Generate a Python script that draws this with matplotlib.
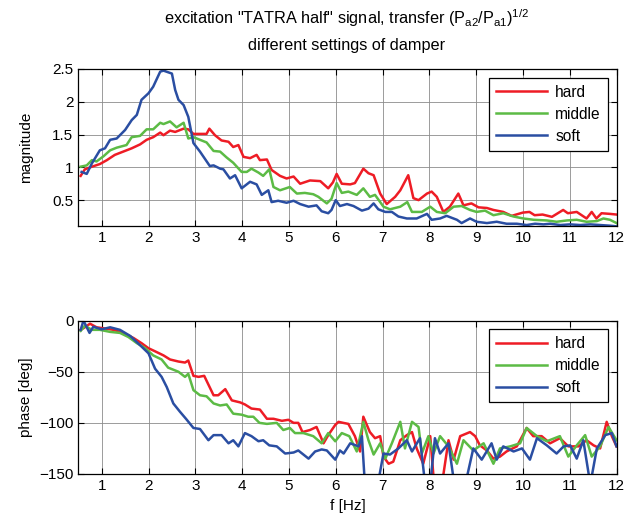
import matplotlib
matplotlib.use("Agg")
import matplotlib.pyplot as plt

plt.rcParams['font.family'] = ['Liberation Sans', 'DejaVu Sans']
plt.rcParams['mathtext.fontset'] = 'custom'
plt.rcParams['mathtext.rm'] = 'Liberation Sans'
plt.rcParams['mathtext.it'] = 'Liberation Sans'
plt.rcParams['font.size'] = 11

labels = ["hard", "middle", "soft"]
colors = ["#ee1c25", "#5cbb45", "#2a4ea2"]

# magnitude of transfer (Pa2/Pa1)^1/2
f_mag_hard = [0.55, 0.64, 0.79, 0.96, 1.11, 1.28, 1.46, 1.64, 1.82, 1.96, 2.1, 2.25, 2.32, 2.46, 2.57, 2.75,
              2.85, 2.96, 3.1, 3.24, 3.3, 3.42, 3.56, 3.71, 3.81, 3.92, 4.03, 4.17, 4.31, 4.38, 4.53, 4.63,
              4.81, 4.95, 5.1, 5.24, 5.45, 5.67, 5.84, 5.94, 6.02, 6.13, 6.31, 6.41, 6.59, 6.7, 6.81, 6.95,
              7.09, 7.27, 7.38, 7.55, 7.66, 7.77, 7.95, 8.05, 8.16, 8.3, 8.44, 8.62, 8.73, 8.9, 9.05, 9.23,
              9.37, 9.58, 9.76, 10.0, 10.14, 10.25, 10.42, 10.62, 10.86, 10.96, 11.15, 11.36, 11.47, 11.57,
              11.68, 11.86, 12.0]
mag_hard = [0.87, 0.97, 1.01, 1.05, 1.11, 1.19, 1.24, 1.29, 1.35, 1.42, 1.46, 1.53, 1.49, 1.56, 1.54, 1.59,
            1.58, 1.51, 1.51, 1.51, 1.59, 1.49, 1.41, 1.39, 1.31, 1.34, 1.16, 1.14, 1.19, 1.11, 1.12, 0.96,
            0.87, 0.83, 0.86, 0.75, 0.8, 0.79, 0.68, 0.77, 0.9, 0.75, 0.74, 0.76, 0.98, 0.91, 0.88, 0.6,
            0.44, 0.55, 0.65, 0.88, 0.53, 0.5, 0.6, 0.63, 0.55, 0.32, 0.4, 0.6, 0.42, 0.45, 0.39, 0.38,
            0.35, 0.32, 0.26, 0.31, 0.32, 0.27, 0.28, 0.245, 0.35, 0.3, 0.32, 0.22, 0.32, 0.22,
            0.3, 0.29, 0.28]

f_mag_middle = [0.55, 0.68, 0.79, 0.89, 1.04, 1.18, 1.32, 1.53, 1.64, 1.82, 1.96, 2.1, 2.25, 2.32, 2.46, 2.6,
                2.75, 2.85, 2.96, 3.1, 3.24, 3.39, 3.53, 3.67, 3.81, 3.99, 4.1, 4.2, 4.35, 4.45, 4.58, 4.67,
                4.81, 5.02, 5.17, 5.34, 5.52, 5.63, 5.81, 5.91, 6.02, 6.13, 6.27, 6.45, 6.59, 6.73, 6.84,
                7.02, 7.16, 7.38, 7.53, 7.63, 7.84, 8.02, 8.16, 8.34, 8.52, 8.69, 8.87, 9.01, 9.19, 9.37,
                9.58, 9.8, 10.01, 10.23, 10.51, 10.72, 10.94, 11.15, 11.36, 11.58, 11.72, 11.86, 12.0]
mag_middle = [1.01, 1.03, 1.11, 1.09, 1.17, 1.26, 1.3, 1.34, 1.46, 1.48, 1.58, 1.58, 1.68, 1.66, 1.7, 1.61,
              1.68, 1.44, 1.46, 1.42, 1.38, 1.25, 1.24, 1.15, 1.07, 0.93, 0.93, 0.98, 0.92, 0.87, 0.97, 0.7,
              0.65, 0.7, 0.6, 0.61, 0.59, 0.55, 0.45, 0.52, 0.76, 0.61, 0.63, 0.58, 0.68, 0.55, 0.58,
              0.4, 0.36, 0.4, 0.47, 0.32, 0.32, 0.4, 0.32, 0.3, 0.4, 0.41, 0.35, 0.32, 0.34, 0.27,
              0.3, 0.25, 0.22, 0.2, 0.19, 0.17, 0.19, 0.2, 0.17, 0.18, 0.22, 0.2, 0.15]

f_mag_soft = [0.57, 0.68, 0.79, 0.96, 1.07, 1.18, 1.32, 1.5, 1.64, 1.75, 1.85, 2.0, 2.1, 2.25, 2.32, 2.5,
              2.57, 2.64, 2.75, 2.85, 2.96, 3.1, 3.31, 3.39, 3.53, 3.6, 3.74, 3.85, 3.99, 4.17, 4.31, 4.42,
              4.56, 4.63, 4.77, 4.95, 5.1, 5.24, 5.42, 5.59, 5.7, 5.84, 5.91, 6.0, 6.09, 6.24, 6.38, 6.56,
              6.7, 6.81, 6.91, 7.06, 7.2, 7.34, 7.52, 7.73, 7.95, 8.05, 8.23, 8.37, 8.59, 8.69, 8.87, 9.01,
              9.23, 9.44, 9.65, 9.87, 10.08, 10.26, 10.44, 10.58, 10.8, 11.01, 11.22, 11.44, 11.65,
              11.86, 12.0]
mag_soft = [0.93, 0.9, 1.06, 1.26, 1.29, 1.42, 1.44, 1.57, 1.72, 1.8, 2.03, 2.13, 2.23, 2.46, 2.475, 2.43,
            2.18, 2.03, 1.95, 1.77, 1.37, 1.24, 1.02, 1.03, 0.98, 0.97, 0.83, 0.88, 0.68, 0.78, 0.74, 0.58,
            0.65, 0.47, 0.49, 0.46, 0.49, 0.44, 0.4, 0.42, 0.33, 0.3, 0.35, 0.5, 0.41, 0.44, 0.41, 0.34,
            0.37, 0.45, 0.36, 0.32, 0.32, 0.25, 0.22, 0.22, 0.29, 0.2, 0.22, 0.26, 0.2, 0.15, 0.22, 0.17,
            0.15, 0.17, 0.14, 0.14, 0.12, 0.14, 0.13, 0.14, 0.12, 0.13, 0.12, 0.13, 0.12,
            0.11, 0.1]

# phase [deg]
f_ph_hard = [0.55, 0.64, 0.75, 0.89, 1.04, 1.25, 1.46, 1.68, 1.85, 2.0, 2.14, 2.32, 2.46, 2.64, 2.78, 2.85,
             2.96, 3.07, 3.19, 3.39, 3.49, 3.64, 3.78, 3.96, 4.06, 4.2, 4.38, 4.53, 4.67, 4.85, 4.99, 5.1,
             5.2, 5.29, 5.45, 5.59, 5.74, 5.84, 5.99, 6.06, 6.16, 6.27, 6.41, 6.52, 6.59, 6.73, 6.84, 6.95,
             7.02, 7.13, 7.23, 7.38, 7.52, 7.63, 7.73, 7.87, 8.02, 8.09, 8.27, 8.41, 8.52, 8.66, 8.87, 8.98,
             9.08, 9.23, 9.37, 9.51, 9.65, 9.87, 10.08, 10.22, 10.4, 10.58, 10.79, 10.97, 11.19, 11.36,
             11.51, 11.65, 11.79, 11.9, 12.0]
ph_hard = [-9, -6.5, -3, -6.5, -7.5, -9, -12, -17, -22, -27, -30, -34, -38, -40, -41, -39,
           -54, -55, -54, -73, -73, -67, -78, -80, -82, -86, -87, -96, -96, -98, -97, -100,
           -100, -109, -107, -104, -120, -112, -102, -99, -100, -101, -113, -128, -94, -109, -115, -113,
           -133, -140, -138, -117, -112, -109, -125, -140, -113, -153, -160, -117, -136, -113, -109, -113,
           -122, -127, -135, -133, -128, -123, -105, -113, -113, -120, -115, -123, -123, -117,
           -122, -125, -99, -113, -123]

f_ph_middle = [0.55, 0.64, 0.79, 0.96, 1.18, 1.39, 1.57, 1.75, 1.93, 2.1, 2.28, 2.42, 2.64, 2.78, 2.85, 2.96,
               3.1, 3.24, 3.39, 3.53, 3.67, 3.81, 3.99, 4.13, 4.24, 4.37, 4.53, 4.74, 4.88, 5.02, 5.13, 5.31,
               5.52, 5.7, 5.84, 5.99, 6.13, 6.29, 6.45, 6.59, 6.7, 6.81, 6.95, 7.06, 7.2, 7.38, 7.48, 7.63,
               7.77, 7.84, 7.98, 8.09, 8.23, 8.41, 8.59, 8.73, 8.94, 9.16, 9.37, 9.51, 9.73, 9.94, 10.08,
               10.3, 10.51, 10.79, 10.97, 11.15, 11.33, 11.47, 11.65, 11.83, 12.0]
ph_middle = [-10, -5, -9, -9, -11, -12, -16, -22, -27, -34, -38, -46, -50, -55, -52, -68,
             -73, -74, -81, -83, -82, -91, -92, -94, -94, -100, -101, -100, -107, -105, -110, -110,
             -113, -120, -110, -118, -110, -113, -128, -99, -117, -131, -120, -135, -120, -99, -125, -99,
             -104, -130, -113, -130, -113, -123, -140, -117, -127, -120, -140, -125, -123, -120, -105,
             -113, -118, -113, -133, -122, -112, -133, -123, -104, -117]

f_ph_soft = [0.55, 0.61, 0.74, 0.82, 1.0, 1.18, 1.39, 1.61, 1.82, 2.0, 2.14, 2.28, 2.39, 2.53, 2.67, 2.8,
             2.96, 3.1, 3.28, 3.39, 3.56, 3.71, 3.81, 3.92, 4.06, 4.2, 4.35, 4.45, 4.58, 4.74, 4.92, 5.1,
             5.2, 5.42, 5.56, 5.7, 5.81, 5.99, 6.09, 6.17, 6.31, 6.49, 6.56, 6.63, 6.88, 7.02, 7.16, 7.34,
             7.52, 7.63, 7.8, 7.91, 8.02, 8.12, 8.23, 8.41, 8.55, 8.77, 8.94, 9.12, 9.33, 9.44, 9.58, 9.8,
             9.98, 10.15, 10.3, 10.51, 10.72, 10.87, 11.01, 11.15, 11.29, 11.44, 11.58, 11.76, 11.9, 12.0]
ph_soft = [-9, 0, -12, -6, -8.5, -6.5, -9, -15, -24, -32, -47, -55, -65, -81, -89, -96,
           -105, -106, -117, -112, -112, -120, -117, -123, -110, -113, -118, -117, -122, -123, -130, -129,
           -127, -135, -128, -126, -127, -136, -127, -130, -120, -123, -113, -165, -165, -130, -131, -125,
           -117, -128, -115, -160, -160, -115, -130, -120, -165, -160, -125, -136, -120, -136, -123, -128,
           -125, -136, -115, -122, -130, -123, -122, -135, -117, -160, -125, -112, -110, -123]

mag_series = [(f_mag_hard, mag_hard), (f_mag_middle, mag_middle), (f_mag_soft, mag_soft)]
ph_series = [(f_ph_hard, ph_hard), (f_ph_middle, ph_middle), (f_ph_soft, ph_soft)]

fig = plt.figure(figsize=(6.24, 5.18), dpi=100)
ax1 = fig.add_axes([0.1255, 0.5643, 0.8625, 0.3025])
ax2 = fig.add_axes([0.1255, 0.085, 0.8625, 0.296])

for ax, series in ((ax1, mag_series), (ax2, ph_series)):
    for (f, v), lab, c in zip(series, labels, colors):
        ax.plot(f, v, color=c, lw=1.8, label=lab)
    ax.set_xlim(0.5, 12)
    ax.set_xticks(range(1, 13))
    ax.grid(True, color='0.55', lw=0.6)
    ax.tick_params(direction='in', top=True, right=True, length=4, width=0.8, labelsize=11)
    for s in ax.spines.values():
        s.set_linewidth(0.9)
    leg = ax.legend(loc='upper right', bbox_to_anchor=(0.984, 0.943), fontsize=11.2,
                    handlelength=3.3, handletextpad=0.5, labelspacing=0.45, borderpad=0.45,
                    borderaxespad=0, fancybox=False, framealpha=1, edgecolor='black')
    leg.get_frame().set_linewidth(0.9)

ax1.set_ylim(0.11, 2.5)
ax1.set_yticks([0.5, 1, 1.5, 2, 2.5])
ax1.set_yticklabels(["0.5", "1", "1.5", "2", "2.5"])
ax1.set_ylabel("magnitude", fontsize=11)
ax1.yaxis.set_label_coords(-0.085, 0.5)

ax2.set_ylim(-150, 0)
ax2.set_yticks([-150, -100, -50, 0])
ax2.set_ylabel("phase [deg]", fontsize=11)
ax2.yaxis.set_label_coords(-0.085, 0.5)
ax2.set_xlabel("f [Hz]", fontsize=11)
ax2.xaxis.set_label_coords(0.5, -0.165)

fig.text(0.556, 0.965, 'excitation "TATRA half" signal, transfer (P$_{\\mathrm{a2}}$/P$_{\\mathrm{a1}}$)$^{1/2}$',
         ha='center', va='center', fontsize=11.7)
fig.text(0.556, 0.913, 'different settings of damper', ha='center', va='center', fontsize=11.7)

fig.savefig("out.png", dpi=100)
